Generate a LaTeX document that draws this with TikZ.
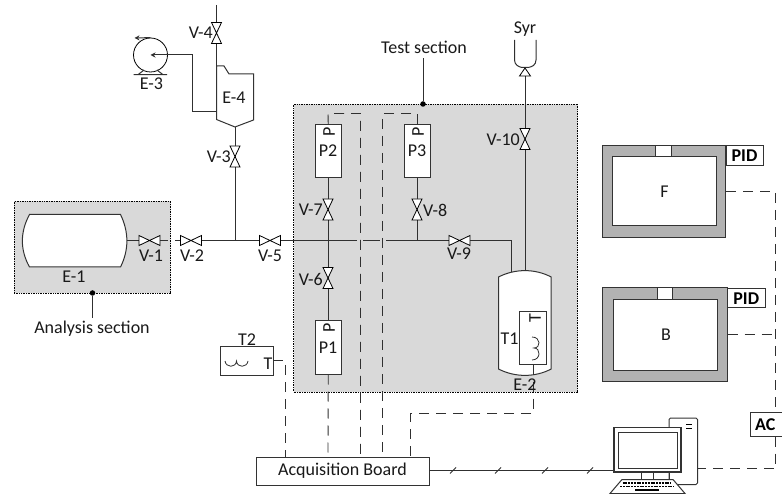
\documentclass[tikz,border=0pt]{standalone}
\usepackage{fontspec}
\setmainfont{Carlito}
\usetikzlibrary{arrows.meta,calc}
\definecolor{secgray}{HTML}{D9D9D9}
\definecolor{ovengray}{HTML}{B2B2B2}
\definecolor{pipecol}{HTML}{303030}
\tikzset{
  pipe/.style={draw=pipecol,line width=1pt},
  sig/.style={draw=pipecol,line width=0.9pt,dash pattern=on 10pt off 7pt},
  section/.style={draw=black,fill=secgray,line width=0.7pt,densely dotted,inner sep=0pt},
  lbl/.style={inner sep=0pt,font=\fontsize{18}{18}\selectfont,text=black!90},
  bold lbl/.style={inner sep=0pt,font=\fontsize{18}{18}\selectfont\bfseries},
  whitebox/.style={draw=black!80,fill=white,line width=1pt,inner sep=0pt},
  oven/.style={draw=black!80,fill=ovengray,line width=1pt,inner sep=0pt},
  bowtie/.style={draw=black,fill=white,line width=0.8pt},
  dotmark/.style={circle,fill=black,inner sep=0pt,minimum size=5.5pt}
}
% box helper: name, x0, y0, x1, y1, style, text
\newcommand{\bx}[7]{\node[#6,minimum width={#4pt-#2pt},minimum height={#5pt-#3pt}] (#1) at ({(#2+#4)/2},{(#3+#5)/2}) {#7};}
\newcommand{\hvalve}[3]{\coordinate (#1) at (#2,#3);
  \draw[bowtie] ($(#1)+(-10.5,-5)$) -- ($(#1)+(10.5,5)$) -- ($(#1)+(10.5,-5)$) -- ($(#1)+(-10.5,5)$) -- cycle;}
\newcommand{\vvalve}[3]{\coordinate (#1) at (#2,#3);
  \draw[bowtie] ($(#1)+(-5,-10.5)$) -- ($(#1)+(5,10.5)$) -- ($(#1)+(-5,10.5)$) -- ($(#1)+(5,-10.5)$) -- cycle;}
\begin{document}
\begin{tikzpicture}[x=1pt,y=-1pt]
\useasboundingbox (0,0) rectangle (782,494);

% sections
\bx{analysis}{14}{201.5}{170.5}{293}{section}{}
\bx{test}{293.5}{104}{577.5}{392}{section}{}

% coordinates for free ends and junctions
\coordinate (top4) at (216.5,5);
\coordinate (jA) at (235,240.5);
\coordinate (jP) at (328,240.5);
\coordinate (jQ) at (417,240.5);
\coordinate (jE) at (511,240.5);
\coordinate (e4left) at (216.5,112);
\coordinate (e4top) at (216.5,66);
\coordinate (e4bot) at (235,127);
\coordinate (pumpc) at (150.5,55);
\coordinate (e1r) at (127,240.5);
\coordinate (e2top) at (525,270.5);
\coordinate (e2in) at (511,272);
\coordinate (syrb) at (525,76);

% vessels with custom outline
\draw[whitebox] (29.5,214.5) -- (120.5,214.5) .. controls (129,232) and (129,250) .. (120.5,267) -- (29.5,267) .. controls (20,250) and (20,232) .. (29.5,214.5) -- cycle;
\draw[whitebox] (498.5,277) .. controls (515,268.5) and (535,268.5) .. (551.2,277) -- (551.2,369) .. controls (535,377.5) and (515,377.5) .. (498.5,369) -- cycle;
\draw[whitebox] (216.5,66) -- (224,66) -- (229,74) -- (253.5,74) -- (253.5,120) -- (235,127) -- (216.5,119.5) -- cycle;

% pipes
\draw[pipe] (top4) -- (e4top);
\draw[pipe] (e4left) -- (192,112) -- (192,55) -- (pumpc);
\draw[pipe] (e4bot) -- (jA);
\draw[pipe] (e1r) -- (167.5,240.5);
\draw[pipe] (175,240.5) -- (357,240.5);
\draw[pipe] (363,240.5) -- (380,240.5);
\draw[pipe] (386,240.5) -- (jE) -- (e2in);
\draw[pipe] (e2top) -- (syrb);

% instrument boxes
\bx{P2}{315}{125}{341.5}{178}{whitebox}{}
\bx{P3}{404}{125}{430}{178}{whitebox}{}
\bx{P1}{315}{321}{341.5}{374}{whitebox}{}
\bx{T1box}{519.5}{311.5}{546.5}{364.5}{whitebox}{}
\bx{T2box}{220.5}{347}{273}{375}{whitebox}{}
\bx{board}{256}{457}{429}{485}{whitebox}{}

\draw[pipe] (P2.south) -- (P1.north);
\draw[pipe] (P3.south) -- (jQ);

% signal lines
\coordinate (bP1) at (328,457);
\coordinate (bP2) at (360.5,457);
\coordinate (bP3) at (382.5,457);
\coordinate (bT1) at (410.5,457);
\coordinate (bT2) at (285.5,457);
\coordinate (t1out) at (533,364.5);
\coordinate (t2out) at (273,360.5);
\draw[sig] (P1.south) -- (bP1);
\draw[sig] (P2.north) -- (328,113.5) -- (360.5,113.5) -- (bP2);
\draw[sig] (P3.north) -- (417,113.5) -- (382.5,113.5) -- (bP3);
\draw[sig] (t1out) -- (533,413.5) -- (410.5,413.5) -- (bT1);
\draw[sig] (t2out) -- (285.5,360.5) -- (bT2);

% valves
\hvalve{V1}{149.5}{240.5}
\hvalve{V2}{191}{240.5}
\hvalve{V5}{270}{240.5}
\hvalve{V9}{459.5}{240.5}
\vvalve{V3}{235}{156.5}
\vvalve{V4}{216.5}{33}
\vvalve{V6}{328}{278}
\vvalve{V7}{328}{209.5}
\vvalve{V8}{417}{209.5}
\vvalve{V10}{525}{139}

% pump
\node[draw=black,fill=white,circle,line width=0.8pt,minimum size=34pt,inner sep=0pt] (E3) at (pumpc) {};
\draw[pipe] (133.7,74.7) -- (167,74.7) (138,74.7) -- (144,70) (163,74.7) -- (157,70);
\draw[pipe,-{Stealth[length=5pt,width=5pt]}] (E3.north) -- (134.5,38);
\draw[pipe,-{Stealth[length=5pt,width=5pt]}] (E3.east) -- (E3.center);

% syringe
\draw[pipe,fill=none] (514.5,40) -- (514.5,60) .. controls (514.5,65) and (519,67) .. (522,67.5) -- (528,67.5) .. controls (532,67) and (536,65) .. (536,60) -- (536,40);
\draw[bowtie] (525,68) -- (530.5,76) -- (519.5,76) -- cycle;

% analysis and test markers
\node[dotmark] (dotA) at (92.5,293) {};
\coordinate (capA) at (92.5,318);
\draw[pipe] (dotA) -- (capA);
\node[dotmark] (dotT) at (423,104) {};
\coordinate (capT) at (423,58);
\draw[pipe] (dotT) -- (capT);

% T1 and T2 coils
\draw[pipe,line width=0.8pt] (532,337) .. controls (541,337) and (541,348) .. (534,348) .. controls (541,348) and (541,360) .. (532,360);
\draw[pipe,line width=0.8pt] (225,361) .. controls (226,368) and (236,368) .. (236.5,361) .. controls (237,368) and (247,368) .. (248,361);

% ovens
\bx{F}{602.5}{145.5}{725.5}{237.5}{oven}{}
\bx{Fi}{612.5}{157}{716}{226}{whitebox}{}
\bx{Fd}{655.5}{146}{671}{157}{whitebox}{}
\bx{PIDf}{726}{145.5}{763}{166}{whitebox}{}
\bx{B}{602.5}{288}{727}{381}{oven}{}
\bx{Bi}{613}{299.5}{717.5}{370}{whitebox}{}
\bx{Bd}{657}{288}{672.5}{299.5}{whitebox}{}
\bx{PIDb}{727.5}{288.5}{765}{308}{whitebox}{}
\bx{AC}{750.5}{412}{790}{436.5}{whitebox}{}

% computer
\coordinate (pcR) at (697.5,468.5);
\coordinate (pcL) at (614,470.5);
\coordinate (bR) at (429,470.5);
\draw[pipe] (bR) -- (pcL);
\foreach \sx in {453,498,545,590} \draw[pipe,line width=0.8pt] (\sx-3,473.5) -- (\sx+3,467.5);
\draw[whitebox] (669,427.5) -- (669,419.5) .. controls (669,418.5) and (669.5,418) .. (670.5,418) -- (696,418) .. controls (697,418) and (697.5,418.5) .. (697.5,419.5) -- (697.5,483) .. controls (697.5,484) and (697,484.5) .. (696,484.5) -- (669,484.5) -- cycle;
\draw[line width=1.4pt] (686,424.5) -- (692,424.5) (686,428.5) -- (692,428.5);
\draw[whitebox] (641,472) rectangle (653,480);
\draw[whitebox] (669,472) -- (669,480);
\draw[whitebox,line width=1.2pt] (614,427.5) rectangle (681,472);
\draw[whitebox,line width=1pt] (618.5,432) rectangle (677,468);
\draw[whitebox] (622,479.5) -- (673,479.5) -- (685,493.5) -- (610,493.5) -- cycle;
\draw[line width=1.4pt,dash pattern=on 2pt off 0.8pt] (622.5,483) -- (671,483);
\draw[line width=1.4pt,dash pattern=on 2pt off 0.8pt] (620,486.5) -- (674,486.5);
\draw[line width=1.6pt] (635,489.8) -- (659,489.8);

% temperature-control lines
\coordinate (busTop) at (775.5,191.5);
\coordinate (busB) at (775.5,334.5);
\draw[sig] (F.east |- busTop) -- (busTop) -- (775.5,412);
\draw[sig] (B.east |- busB) -- (busB);
\draw[sig] (775.5,436.5) -- (775.5,468.5) -- (pcR);

% labels
\node[lbl] at (151,256) {V-1};
\node[lbl] at (192,256) {V-2};
\node[lbl] at (270,256) {V-5};
\node[lbl] at (459,254) {V-9};
\node[lbl,anchor=east] at (323,209.5) {V-7};
\node[lbl,anchor=east] at (323,279) {V-6};
\node[lbl,anchor=west] at (423,210) {V-8};
\node[lbl,anchor=east] at (520,140) {V-10};
\node[lbl,anchor=east] at (231,157) {V-3};
\node[lbl,anchor=east] at (213,33) {V-4};
\node[lbl] at (74,277) {E-1};
\node[lbl] at (525,385) {E-2};
\node[lbl] at (151.5,84) {E-3};
\node[lbl] at (234,98) {E-4};
\node[lbl] at (92,329) {Analysis section};
\node[lbl] at (424,47) {Test section};
\node[lbl] at (525,29) {Syr};
\node[lbl] at (328,151) {P2};
\node[lbl] at (417,151) {P3};
\node[lbl] at (328,348) {P1};
\node[lbl,rotate=90] at (329,132) {P};
\node[lbl,rotate=90] at (418,132) {P};
\node[lbl,rotate=90] at (329,328) {P};
\node[lbl] at (509.5,339) {T1};
\node[lbl,rotate=90] at (535,318) {T};
\node[lbl] at (247,340) {T2};
\node[lbl] at (268,364) {T};
\node[lbl] at (board) {Acquisition Board};
\node[lbl] at (664.5,192) {F};
\node[lbl] at (666,335) {B};
\node[bold lbl] at (PIDf) {PID};
\node[bold lbl] at (PIDb) {PID};
\node[bold lbl,anchor=west] at (755,425) {AC};
\end{tikzpicture}
\end{document}
